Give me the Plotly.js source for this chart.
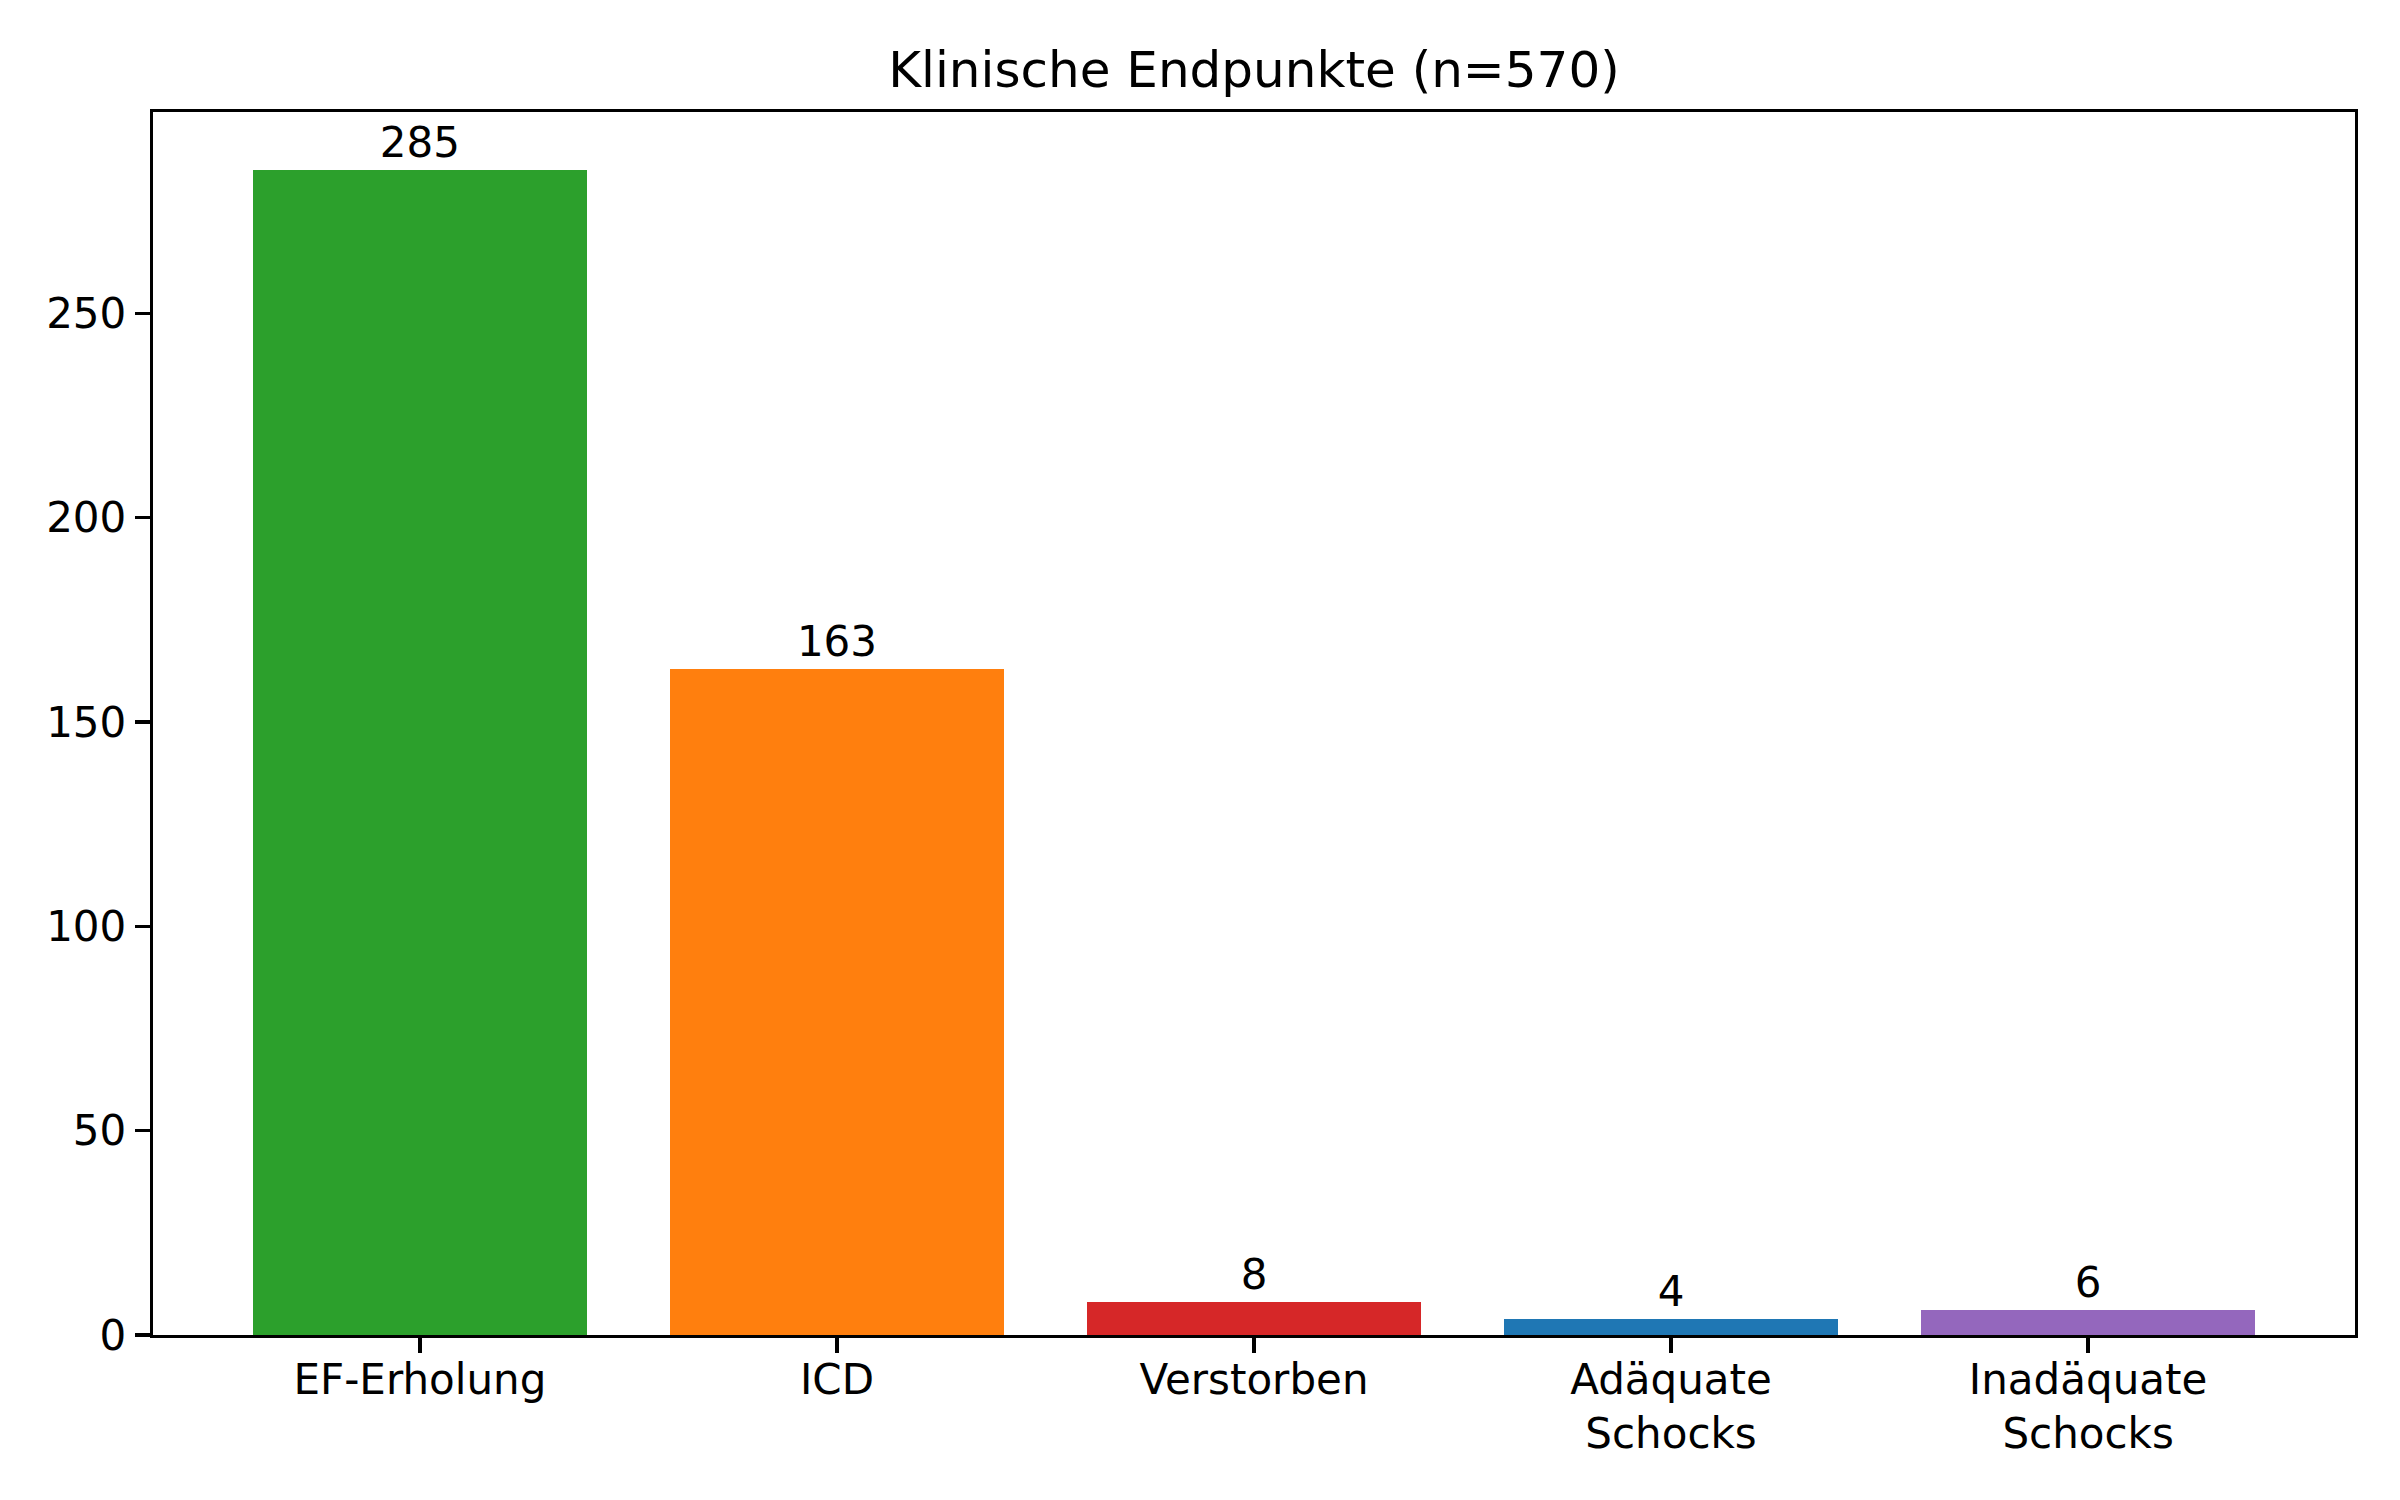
<!DOCTYPE html>
<html>
<head>
<meta charset="utf-8">
<script src="https://cdn.plot.ly/plotly-3.0.1.min.js"></script>
<style>
    body { margin: 0; background: #fff; }
    #chart { width: 2400px; height: 1500px; }
</style>
</head>
<body>
<div id="chart"></div>
<script>
let categories = ['EF-Erholung', 'ICD', 'Verstorben', 'Adäquate<br>Schocks', 'Inadäquate<br>Schocks'];
let counts = [285, 163, 8, 4, 6];
let barColors = ['#2ca02c', '#ff7f0e', '#d62728', '#1f77b4', '#9467bd'];
let yTicks = [0, 50, 100, 150, 200, 250];
let chartTitle = 'Klinische Endpunkte (n=570)';

let fontFamily = 'DejaVu Sans, sans-serif';

var data = [{
    x: categories,
    y: counts,
    type: 'bar',
    width: 0.8,
    marker: {
        color: barColors,
        line: { width: 0 }
    },
    text: counts.map(String),
    textposition: 'outside',
    constraintext: 'none',
    cliponaxis: false,
    textfont: { size: 42, color: '#000', family: fontFamily },
    hoverinfo: 'none'
}];

var layout = {
    width: 2400,
    height: 1500,
    paper_bgcolor: '#fff',
    plot_bgcolor: '#fff',
    showlegend: false,
    font: { family: fontFamily, size: 42, color: '#000' },
    margin: { l: 153, r: 45, t: 112, b: 165 },
    title: {
        text: chartTitle,
        font: { size: 50, color: '#000', family: fontFamily },
        x: 0.5,
        xref: 'paper',
        y: 1 - 69 / 1500,
        yref: 'container',
        yanchor: 'middle'
    },
    bargap: 0,
    xaxis: {
        type: 'category',
        range: [-0.64, 4.64],
        showline: true,
        mirror: true,
        linecolor: '#000',
        linewidth: 3.3,
        ticks: 'outside',
        ticklen: 15,
        tickwidth: 3.3,
        tickcolor: '#000',
        ticklabelstandoff: -10,
        showgrid: false,
        zeroline: false,
        tickfont: { size: 42, color: '#000', family: fontFamily }
    },
    yaxis: {
        range: [0, 299.25],
        tickvals: yTicks,
        ticktext: yTicks.map(String),
        showline: true,
        mirror: true,
        linecolor: '#000',
        linewidth: 3.3,
        ticks: 'outside',
        ticklen: 15,
        tickwidth: 3.3,
        tickcolor: '#000',
        showgrid: false,
        zeroline: false,
        tickfont: { size: 42, color: '#000', family: fontFamily }
    }
};

Plotly.newPlot('chart', data, layout, { staticPlot: true, displayModeBar: false });
</script>
</body>
</html>
